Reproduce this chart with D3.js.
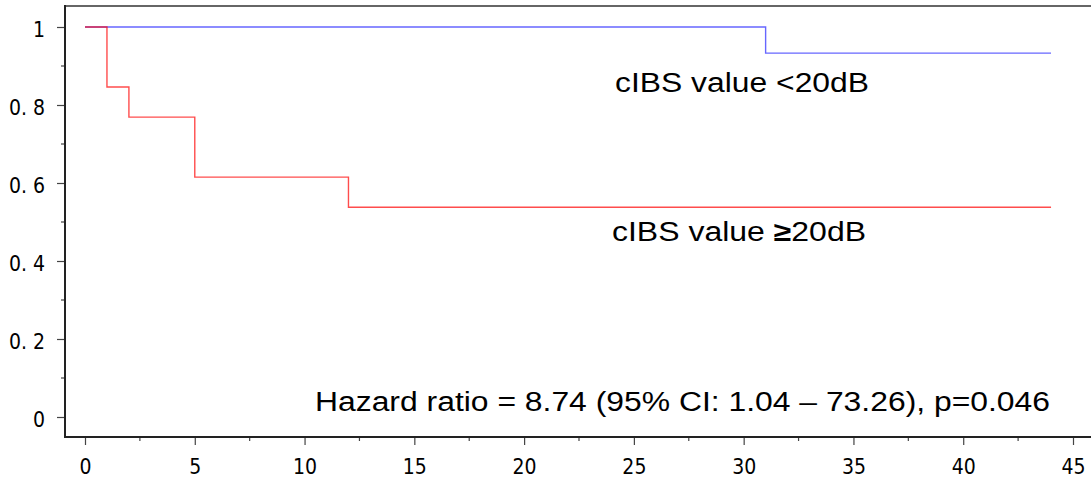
<!DOCTYPE html>
<html>
<head>
<meta charset="utf-8">
<script src="https://cdn.jsdelivr.net/npm/d3@7"></script>
<style>
  body { margin: 0; background: #fff; }
  .tick-label { font-family: "Liberation Sans Narrow", "DejaVu Sans Condensed", "Noto Sans CJK JP", sans-serif; font-size: 21px; fill: #000; }
  .note { font-family: "Liberation Sans", Arial, sans-serif; font-size: 27px; fill: #000; }
</style>
</head>
<body>
<svg id="chart" width="1091" height="478"></svg>
<script>
// survival curves (Kaplan-Meier steps)
const lowTimes = [0, 31, 44];
const lowSurv = [1, 0.933, 0.933];
const highTimes = [0, 1, 2, 5, 12, 44];
const highSurv = [1, 0.846, 0.769, 0.615, 0.538, 0.538];

const xTicks = [0, 5, 10, 15, 20, 25, 30, 35, 40, 45];
const yTicks = [0, 0.2, 0.4, 0.6, 0.8, 1];
const yTickLabels = ['0', '0. 2', '0. 4', '0. 6', '0. 8', '1'];

const labelLow = 'cIBS value <20dB';
const labelHighPre = 'cIBS value ';
const labelHighSign = '\u2265';
const labelHighPost = '20dB';
const hazardText = 'Hazard ratio = 8.74 (95% CI: 1.04 \u2013 73.26), p=0.046';

const svg = d3.select('#chart');

const x = d3.scaleLinear().domain([0, 45]).range([85, 1073]);
const y = d3.scaleLinear().domain([0, 1]).range([417, 27]);

const plotLeft = 65, plotBottom = 437, plotTop = 6, plotRight = 1091;

// frame line on top
svg.append('line')
    .attr('x1', plotLeft).attr('x2', plotRight)
    .attr('y1', plotTop).attr('y2', plotTop)
    .attr('stroke', '#666').attr('stroke-width', 2);

// y axis
const yAxis = d3.axisLeft(y).tickValues(yTicks)
    .tickFormat((d, i) => yTickLabels[i]).tickSize(8).tickPadding(12);
const gy = svg.append('g').attr('transform', `translate(${plotLeft},0)`).call(yAxis);
gy.select('.domain').remove();
gy.selectAll('.tick line').attr('stroke', '#444').attr('stroke-width', 1.2);
gy.selectAll('.tick text').attr('class', 'tick-label').attr('dy', '0.45em')
    .style('white-space', 'pre');

// minor y ticks
svg.selectAll('line.ymin')
    .data(d3.range(0.1, 1, 0.2))
    .enter().append('line')
    .attr('class', 'ymin')
    .attr('x1', plotLeft - 4).attr('x2', plotLeft)
    .attr('y1', d => y(d)).attr('y2', d => y(d))
    .attr('stroke', '#444').attr('stroke-width', 1.2);

// x axis
const xAxis = d3.axisBottom(x).tickValues(xTicks).tickSize(8).tickPadding(10);
const gx = svg.append('g').attr('transform', `translate(0,${plotBottom})`).call(xAxis);
gx.select('.domain').remove();
gx.selectAll('.tick line').attr('stroke', '#444').attr('stroke-width', 1.2);
gx.selectAll('.tick text').attr('class', 'tick-label').attr('dy', '0.9em');

// minor x ticks
svg.selectAll('line.xmin')
    .data(d3.range(2.5, 45, 5))
    .enter().append('line')
    .attr('class', 'xmin')
    .attr('x1', d => x(d)).attr('x2', d => x(d))
    .attr('y1', plotBottom).attr('y2', plotBottom + 4)
    .attr('stroke', '#444').attr('stroke-width', 1.2);

svg.append('line')
    .attr('x1', plotLeft).attr('x2', plotLeft)
    .attr('y1', plotTop - 1).attr('y2', plotBottom + 1)
    .attr('stroke', '#222').attr('stroke-width', 2);
svg.append('line')
    .attr('x1', plotLeft).attr('x2', plotRight)
    .attr('y1', plotBottom).attr('y2', plotBottom)
    .attr('stroke', '#222').attr('stroke-width', 2);

// curves
const line = d3.line()
    .x(d => x(d[0]))
    .y(d => y(d[1]))
    .curve(d3.curveStepAfter);

svg.append('path')
    .datum(d3.zip(lowTimes, lowSurv))
    .attr('d', line)
    .attr('fill', 'none')
    .attr('stroke', '#0000ff').attr('stroke-opacity', 0.6)
    .attr('stroke-width', 1.4);

svg.append('path')
    .datum(d3.zip(highTimes, highSurv))
    .attr('d', line)
    .attr('fill', 'none')
    .attr('stroke', '#ff0000').attr('stroke-opacity', 0.7)
    .attr('stroke-width', 1.4);

// annotations
svg.append('text').attr('class', 'note')
    .attr('x', 615).attr('y', 92)
    .attr('textLength', 254).attr('lengthAdjust', 'spacingAndGlyphs')
    .text(labelLow);

const t2 = svg.append('text').attr('class', 'note')
    .attr('x', 612).attr('y', 241)
    .attr('textLength', 254).attr('lengthAdjust', 'spacingAndGlyphs');
t2.append('tspan').text(labelHighPre);
t2.append('tspan').attr('font-weight', 'bold').text(labelHighSign);
t2.append('tspan').text(labelHighPost);

svg.append('text').attr('class', 'note')
    .attr('x', 315).attr('y', 411)
    .attr('textLength', 735).attr('lengthAdjust', 'spacingAndGlyphs')
    .text(hazardText);
</script>
</body>
</html>
